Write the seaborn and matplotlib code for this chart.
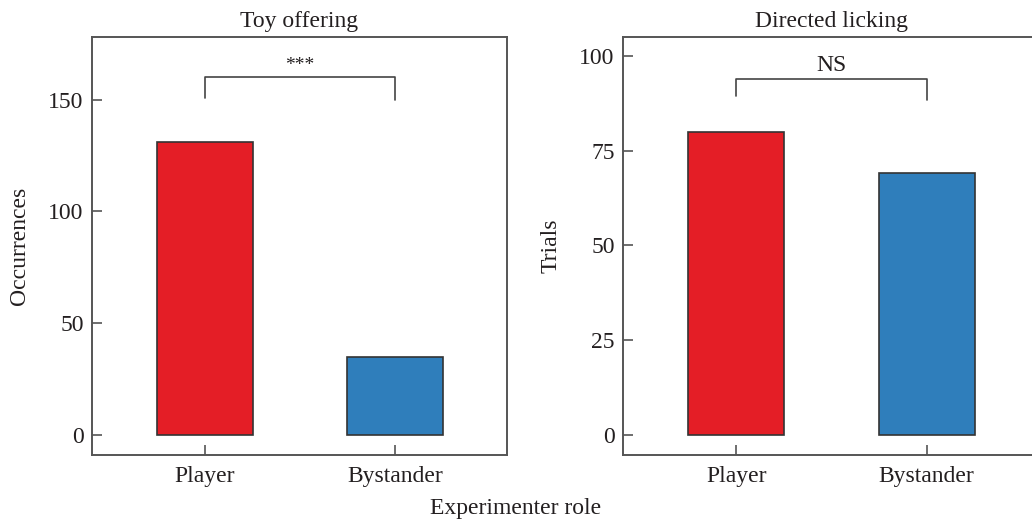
import matplotlib
matplotlib.use("Agg")
import matplotlib.pyplot as plt
import numpy as np
import pandas as pd
import seaborn as sns

# Data
roles = ["Player", "Bystander"]
toy_offering = [131, 35]
directed_licking = [80, 69]
panel_titles = ["Toy offering", "Directed licking"]
panel_ylabels = ["Occurrences", "Trials"]
sig_labels = ["***", "NS"]
bracket_tops = [160, 94]          # height of bracket bar
bracket_legs = [[150.5, 150], [89.5, 88.5]]  # where the legs stop
yticks = [[0, 50, 100, 150], [0, 25, 50, 75, 100]]
ylims = [(-9, 178), (-5.3, 105)]

colors = ["#E41E26", "#2F7EBB"]

sns.set_style("ticks")
plt.rcParams["font.family"] = ["Liberation Serif", "DejaVu Serif"]
plt.rcParams["font.size"] = 17
plt.rcParams["axes.edgecolor"] = "#555555"
plt.rcParams["axes.linewidth"] = 1.4
plt.rcParams["text.color"] = "#231f20"
plt.rcParams["axes.labelcolor"] = "#231f20"
plt.rcParams["xtick.color"] = "#555555"
plt.rcParams["ytick.color"] = "#555555"
plt.rcParams["xtick.labelcolor"] = "#231f20"
plt.rcParams["ytick.labelcolor"] = "#231f20"

fig = plt.figure(figsize=(10.32, 5.23), dpi=100)
ax1 = fig.add_axes([0.0891, 0.130, 0.4021, 0.7992])
ax2 = fig.add_axes([0.6037, 0.130, 0.4031, 0.7992])

datasets = [toy_offering, directed_licking]
for i, ax in enumerate([ax1, ax2]):
    df = pd.DataFrame({"role": roles, "value": datasets[i]})
    sns.barplot(data=df, x="role", y="value", hue="role", palette=colors,
                order=roles, hue_order=roles, width=0.505, legend=False,
                saturation=1, edgecolor="#333333", linewidth=1.2, ax=ax)
    ax.set_xlim(-0.595, 1.59)
    ax.set_ylim(*ylims[i])
    ax.set_yticks(yticks[i])
    ax.set_title(panel_titles[i], fontsize=17, pad=7)
    ax.set_ylabel(panel_ylabels[i], fontsize=17, labelpad=13)
    ax.set_xlabel("")
    ax.tick_params(direction="in", length=7, width=1.2, labelsize=17, pad=6)
    ax.tick_params(axis="x", pad=8)
    for side in ["top", "right", "left", "bottom"]:
        ax.spines[side].set_visible(True)
    # significance bracket
    top = bracket_tops[i]
    ax.plot([0, 0, 1, 1], [bracket_legs[i][0], top, top, bracket_legs[i][1]],
            color="#444444", lw=1.2)
    ax.annotate(sig_labels[i], (0.5, top), xytext=(0, 2), textcoords="offset points",
                ha="center", va="bottom",
                fontsize=17 if sig_labels[i] == "NS" else 14)

fig.text(0.5, 0.008, "Experimenter role", ha="center", va="bottom", fontsize=17)

fig.savefig("out.png", dpi=100)
